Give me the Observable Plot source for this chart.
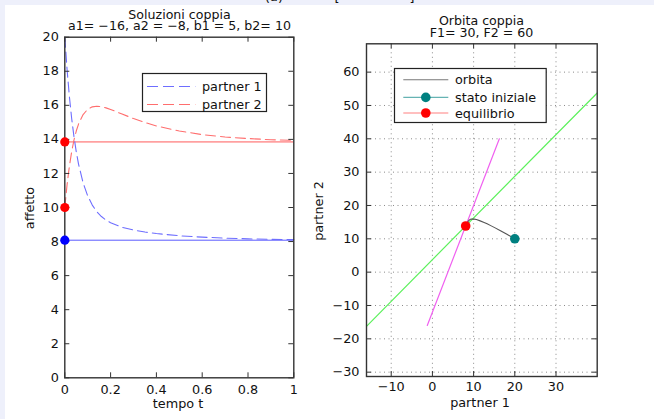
<!DOCTYPE html>
<html><head><meta charset="utf-8">
<script src="https://cdn.jsdelivr.net/npm/d3@7"></script>
<script src="https://cdn.jsdelivr.net/npm/@observablehq/plot@0.6"></script>
<style>
html,body{margin:0;padding:0;background:#eef0fb;}
#page{position:relative;width:654px;height:419px;overflow:hidden;background:#eef0fb;font-family:"DejaVu Sans",sans-serif;color:#111;}
#white{position:absolute;left:5px;top:5px;right:0;bottom:0;background:#fff;}
.box{position:absolute;top:0;}
.txt{position:absolute;font-size:12.8px;line-height:11px;white-space:nowrap;color:#111;}
.ttl{position:absolute;font-size:12.6px;line-height:11.7px;white-space:pre;color:#111;text-align:center;transform:translateX(-50%);}
</style></head><body><div id="page"><div id="white"></div></div>
<script>
// ---- data ----
const time = [0, 0.01, 0.02, 0.03, 0.04, 0.05, 0.06, 0.08, 0.10, 0.12, 0.14, 0.16, 0.18, 0.2, 0.25, 0.3, 0.35, 0.4, 0.5, 0.6, 0.7, 0.8, 0.9, 1.0];
const partner1 = [20.0, 18.09, 16.52, 15.23, 14.16, 13.28, 12.55, 11.44, 10.68, 10.14, 9.75, 9.47, 9.26, 9.11, 8.84, 8.68, 8.56, 8.47, 8.34, 8.26, 8.20, 8.16, 8.13, 8.115];
const partner2 = [10.0, 11.35, 12.42, 13.28, 13.96, 14.49, 14.90, 15.46, 15.77, 15.91, 15.95, 15.92, 15.85, 15.76, 15.49, 15.22, 14.99, 14.79, 14.49, 14.28, 14.14, 14.05, 13.98, 13.94];
const equilibrium = [8.08, 13.85];
const initialState = [20, 10];
const nullcline1X = [-1.25, 16.25];
const nullcline1Y = [-16, 40];
const nullcline2X = [-16, 40];
const nullcline2Y = [-16.25, 53.75];
const timeTicks = [0, 0.2, 0.4, 0.6, 0.8, 1];
const affettoTicks = [0, 2, 4, 6, 8, 10, 12, 14, 16, 18, 20];
const p1Ticks = [-10, 0, 10, 20, 30];
const p2Ticks = [-30, -20, -10, 0, 10, 20, 30, 40, 50, 60];
const legend1Labels = ["partner 1", "partner 2"];
const legend2Labels = ["orbita", "stato iniziale", "equilibrio"];

const page = document.getElementById("page");
const fmt = d => (d < 0 ? "\u2212" + (-d) : String(d));
const H = 419;
const baseStyle = {fontFamily: "DejaVu Sans", fontSize: "12.8px", color: "#111", background: "transparent", overflow: "visible"};
const FRAME = "#333";

const rows = time.map((d, i) => ({t: d, p1: partner1[i], p2: partner2[i]}));

// ---- left plot ----
const W1 = 327, L1 = {l: 64.3, r: 293.3, t: 36.7, b: 377.3};
const fw1 = L1.r - L1.l, fh1 = L1.b - L1.t;
const plot1 = Plot.plot({
  width: W1, height: H,
  marginLeft: L1.l, marginRight: W1 - L1.r, marginTop: L1.t, marginBottom: H - L1.b,
  x: {domain: [0, 1]}, y: {domain: [0, 20]},
  style: baseStyle,
  marks: [
    Plot.ruleY([equilibrium[1]], {stroke: "#ff5a5a", strokeWidth: 1}),
    Plot.ruleY([equilibrium[0]], {stroke: "#5a5aff", strokeWidth: 1}),
    Plot.line(rows, {x: "t", y: "p1", stroke: "#6e6eff", strokeWidth: 1.1, strokeDasharray: "10,5"}),
    Plot.line(rows, {x: "t", y: "p2", stroke: "#ff6e6e", strokeWidth: 1.1, strokeDasharray: "10,5"}),
    Plot.tickY(affettoTicks, {y: d => d, insetRight: fw1 - 5, stroke: FRAME}),
    Plot.tickY(affettoTicks, {y: d => d, insetLeft: fw1 - 5, stroke: FRAME}),
    Plot.tickX(timeTicks, {x: d => d, insetTop: fh1 - 5, stroke: FRAME}),
    Plot.tickX(timeTicks, {x: d => d, insetBottom: fh1 - 5, stroke: FRAME}),
    Plot.frame({stroke: FRAME, strokeWidth: 1.4}),
    Plot.axisX({ticks: timeTicks, tickSize: 0, tickPadding: 7, tickFormat: d => String(d), label: null}),
    Plot.axisY({ticks: affettoTicks, tickSize: 0, tickPadding: 6, tickFormat: fmt, label: null}),
    Plot.dot([equilibrium[1], initialState[1]], {x: () => 0, y: d => d, r: 4.6, fill: "#ff0000", stroke: "none"}),
    Plot.dot([equilibrium[0]], {x: () => 0, y: d => d, r: 4.6, fill: "#0000ff", stroke: "none"})
  ]
});

// ---- right plot ----
const X2 = 327, W2 = 327, L2 = {l: 366, r: 596.7, t: 43.3, b: 376};
const fw2 = L2.r - L2.l, fh2 = L2.b - L2.t;
const plot2 = Plot.plot({
  width: W2, height: H,
  marginLeft: L2.l - X2, marginRight: X2 + W2 - L2.r, marginTop: L2.t, marginBottom: H - L2.b,
  x: {domain: [-16, 40]}, y: {domain: [-31.3, 68.5]},
  style: baseStyle,
  marks: [
    Plot.ruleX(p1Ticks, {x: d => d, stroke: "#8a8a8a", strokeWidth: 1, strokeDasharray: "1,3.5"}),
    Plot.ruleY(p2Ticks, {y: d => d, stroke: "#8a8a8a", strokeWidth: 1, strokeDasharray: "1,3.5"}),
    Plot.line(nullcline2X.map((d, i) => ({x: d, y: nullcline2Y[i]})), {x: "x", y: "y", stroke: "#5cf05c", strokeWidth: 1.2}),
    Plot.line(nullcline1X.map((d, i) => ({x: d, y: nullcline1Y[i]})), {x: "x", y: "y", stroke: "#f060f0", strokeWidth: 1.2}),
    Plot.line(rows, {x: "p1", y: "p2", stroke: "#555", strokeWidth: 1.1}),
    Plot.tickY(p2Ticks, {y: d => d, insetRight: fw2 - 5, stroke: FRAME}),
    Plot.tickY(p2Ticks, {y: d => d, insetLeft: fw2 - 5, stroke: FRAME}),
    Plot.tickX(p1Ticks, {x: d => d, insetTop: fh2 - 5, stroke: FRAME}),
    Plot.tickX(p1Ticks, {x: d => d, insetBottom: fh2 - 5, stroke: FRAME}),
    Plot.frame({stroke: FRAME, strokeWidth: 1.4}),
    Plot.axisX({ticks: p1Ticks, tickSize: 0, tickPadding: 5.5, tickFormat: fmt, label: null}),
    Plot.axisY({ticks: p2Ticks, tickSize: 0, tickPadding: 7, tickFormat: fmt, label: null}),
    Plot.dot([initialState], {x: d => d[0], y: d => d[1], r: 4.8, fill: "#008080", stroke: "none"}),
    Plot.dot([equilibrium], {x: d => d[0], y: d => d[1], r: 4.8, fill: "#ff0000", stroke: "none"})
  ]
});

function place(node, left) {
  const d = document.createElement("div");
  d.className = "box";
  d.style.left = left + "px";
  d.appendChild(node);
  page.appendChild(d);
}
place(plot1, 0);
place(plot2, X2);

// ---- texts ----
function text(str, x, top, opts = {}) {
  const d = document.createElement("div");
  d.className = "txt";
  d.textContent = str;
  d.style.left = x + "px";
  d.style.top = top + "px";
  d.style.transform = opts.rotate ? "translate(-50%,-50%) rotate(-90deg)" : "translateX(-50%)";
  page.appendChild(d);
}
function title(lines, x, top) {
  const d = document.createElement("div");
  d.className = "ttl";
  d.textContent = lines.join("\n");
  d.style.left = x + "px";
  d.style.top = top + "px";
  page.appendChild(d);
}
title(["Soluzioni coppia", "a1= \u221216, a2 = \u22128, b1 = 5, b2= 10"], 179.5, 8.6);
title(["Orbita coppia", "F1= 30, F2 = 60"], 481.5, 15.3);
text("tempo t", 178, 397.6);
text("affetto", 28.8, 207.5, {rotate: true});
text("partner 1", 480, 396.8);
text("partner 2", 318.2, 210.8, {rotate: true});
// cropped fragments at the very top
text("(a)", 274, -8.6);
text("[", 337, -8.6);
text("]", 412, -8.6);

// ---- legends ----
const NS = "http://www.w3.org/2000/svg";
function legend(box, items) {
  const svg = document.createElementNS(NS, "svg");
  svg.setAttribute("width", box.w);
  svg.setAttribute("height", box.h);
  svg.style.cssText = `position:absolute;left:${box.x}px;top:${box.y}px;overflow:visible`;
  const r = document.createElementNS(NS, "rect");
  r.setAttribute("x", 0.5); r.setAttribute("y", 0.5);
  r.setAttribute("width", box.w - 1); r.setAttribute("height", box.h - 1);
  r.setAttribute("fill", "#fff"); r.setAttribute("stroke", "#222"); r.setAttribute("stroke-width", 1.2);
  svg.appendChild(r);
  items.forEach(it => {
    const l = document.createElementNS(NS, "line");
    l.setAttribute("x1", box.lx1); l.setAttribute("x2", box.lx2);
    l.setAttribute("y1", it.y); l.setAttribute("y2", it.y);
    l.setAttribute("stroke", it.stroke); l.setAttribute("stroke-width", 1.1);
    if (it.dash) l.setAttribute("stroke-dasharray", it.dash);
    svg.appendChild(l);
    if (it.dot) {
      const c = document.createElementNS(NS, "circle");
      c.setAttribute("cx", (box.lx1 + box.lx2) / 2); c.setAttribute("cy", it.y);
      c.setAttribute("r", 4.8); c.setAttribute("fill", it.dot);
      svg.appendChild(c);
    }
    const t = document.createElementNS(NS, "text");
    t.setAttribute("x", box.tx); t.setAttribute("y", it.y);
    t.setAttribute("dy", "0.36em");
    t.setAttribute("font-family", "DejaVu Sans"); t.setAttribute("font-size", "12.8px");
    t.setAttribute("fill", "#111");
    t.textContent = it.label;
    svg.appendChild(t);
  });
  page.appendChild(svg);
}
legend({x: 141.7, y: 72.7, w: 125, h: 39, lx1: 5, lx2: 53.3, tx: 60}, [
  {label: legend1Labels[0], y: 13.5, stroke: "#6e6eff", dash: "11,5"},
  {label: legend1Labels[1], y: 31.5, stroke: "#ff6e6e", dash: "11,5"}
]);
legend({x: 394, y: 68.3, w: 152.7, h: 55, lx1: 9.3, lx2: 54.3, tx: 61}, [
  {label: legend2Labels[0], y: 11.7, stroke: "#777"},
  {label: legend2Labels[1], y: 29.4, stroke: "#66b3b3", dot: "#008080"},
  {label: legend2Labels[2], y: 45, stroke: "#ff8080", dot: "#ff0000"}
]);
</script></body></html>
